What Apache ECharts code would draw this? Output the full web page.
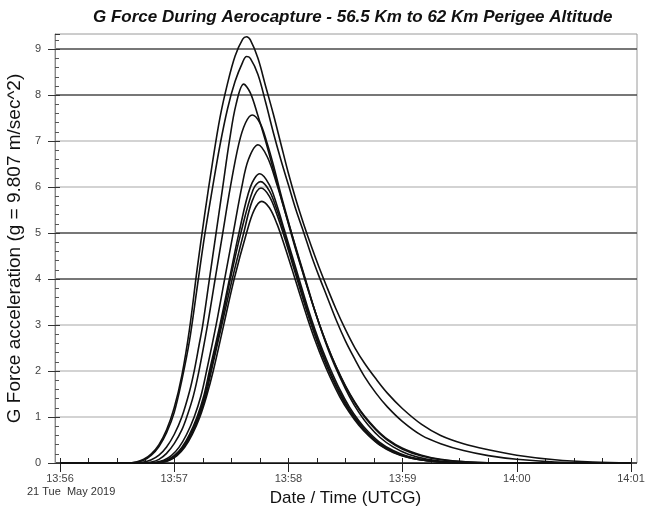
<!DOCTYPE html>
<html><head><meta charset="utf-8">
<script src="https://cdn.jsdelivr.net/npm/echarts@6/dist/echarts.min.js"></script>
<style>html,body{margin:0;padding:0;background:#fff}#c{width:651px;height:508px}</style>
</head><body><div id="c"></div>
<script>
// time in seconds after 13:56:00 UTCG, value in g
const xTickLabels = ['13:56','13:57','13:58','13:59','14:00','14:01'];
const yTickLabels = ['0','1','2','3','4','5','6','7','8','9'];
const g1 = [[0,0],[35,0],[40,0.02],[44,0.08],[48,0.2],[52,0.4],[56,0.72],[60,1.2],[64,1.9],[68,2.9],[72,4.2],[76,5.4],[80,6.5],[84,7.5],[88,8.25],[92,8.85],[96,9.22],[98,9.27],[100,9.2],[104,8.8],[108,8.2],[112,7.6],[116,6.95],[120,6.3],[124,5.72],[128,5.2],[132,4.72],[136,4.27],[140,3.85],[145,3.35],[150,2.9],[155,2.5],[160,2.17],[166,1.83],[172,1.52],[180,1.18],[190,0.84],[200,0.6],[212,0.42],[225,0.29],[240,0.17],[260,0.07],[280,0.02],[300,0]];
const g2 = [[0,0],[36,0],[40,0.015],[44,0.06],[48,0.17],[52,0.36],[56,0.66],[60,1.1],[64,1.8],[68,2.65],[72,3.8],[76,4.95],[80,5.95],[84,6.9],[88,7.7],[92,8.3],[96,8.72],[98,8.84],[100,8.8],[104,8.45],[108,7.85],[112,7.2],[116,6.6],[120,6.05],[124,5.5],[128,5.02],[132,4.52],[136,4.07],[140,3.65],[145,3.12],[150,2.65],[155,2.25],[160,1.88],[166,1.52],[172,1.22],[180,0.9],[190,0.6],[200,0.42],[212,0.27],[225,0.16],[240,0.08],[260,0.02],[280,0],[300,0]];
const g3 = [[0,0],[40,0],[44,0.02],[48,0.07],[52,0.17],[56,0.35],[60,0.62],[64,1.0],[68,1.55],[70.5,2.0],[73,2.55],[75,3],[78.5,4],[82,5],[85.5,6],[89,7],[92.5,7.8],[96.5,8.24],[100,8.05],[104,7.55],[108,7.0],[112,6.4],[116,5.8],[120,5.2],[124,4.62],[128,4.08],[132,3.55],[136,3.05],[140,2.6],[145,2.1],[150,1.68],[155,1.32],[160,1.02],[166,0.74],[172,0.52],[180,0.32],[190,0.17],[200,0.08],[215,0.02],[235,0],[300,0]];
const g4 = [[0,0],[44,0],[48,0.02],[52,0.08],[56,0.21],[60,0.42],[64,0.72],[67,1.05],[70,1.45],[73,2.0],[77.5,3.0],[81.5,4.0],[85.5,5.0],[89.5,6.0],[94,6.95],[97.5,7.4],[101,7.57],[105,7.4],[108.5,7.0],[112,6.5],[116,5.85],[120,5.25],[124,4.65],[128,4.1],[132,3.55],[136,3.05],[140,2.6],[145,2.1],[150,1.66],[155,1.3],[160,1.0],[166,0.72],[172,0.5],[180,0.3],[190,0.15],[200,0.07],[215,0.02],[235,0],[300,0]];
const g5 = [[0,0],[46,0],[50.5,0.015],[54.5,0.06],[58.5,0.16],[62.5,0.34],[66.5,0.62],[70.5,1.0],[74,1.45],[77,2.0],[82,3.0],[86.5,4.0],[91,5.0],[95.5,6.0],[99,6.6],[104,6.92],[109,6.65],[114,6.05],[118,5.5],[122,4.95],[126,4.4],[130,3.85],[134,3.3],[138,2.8],[142,2.35],[147,1.87],[152,1.45],[157,1.1],[162,0.82],[168,0.56],[175,0.35],[183,0.19],[193,0.08],[205,0.02],[220,0],[300,0]];
const g6 = [[0,0],[48,0],[52,0.015],[56,0.06],[60,0.16],[64,0.34],[68,0.62],[72,1.0],[75.5,1.45],[78.5,2.0],[84,3.0],[89,4.0],[94,5.0],[100,6.0],[105,6.29],[110,6.05],[114,5.6],[118,5.05],[122,4.5],[126,3.95],[130,3.4],[134,2.9],[138,2.45],[142,2.05],[147,1.6],[152,1.22],[157,0.92],[162,0.68],[168,0.45],[175,0.27],[183,0.14],[193,0.06],[205,0.01],[220,0],[300,0]];
const g7 = [[0,0],[48,0],[52.5,0.015],[56.5,0.06],[60.5,0.16],[64.5,0.34],[68.5,0.62],[72.5,1.0],[76,1.45],[79,2.0],[84.5,3.0],[89.5,4.0],[95,5.0],[101.5,5.95],[105.4,6.12],[110,5.92],[114,5.5],[118,4.98],[122,4.42],[126,3.87],[130,3.33],[134,2.83],[138,2.38],[142,1.98],[147,1.54],[152,1.17],[157,0.88],[162,0.64],[168,0.42],[175,0.25],[183,0.13],[193,0.05],[205,0.01],[220,0],[300,0]];
const g8 = [[0,0],[49,0],[53,0.015],[57,0.06],[61,0.16],[65,0.34],[69,0.62],[73,1.0],[76.5,1.45],[79.5,2.0],[85,3.0],[90.5,4.0],[96.5,5.0],[101,5.7],[105.6,5.98],[110,5.8],[114,5.4],[118,4.9],[122,4.35],[126,3.8],[130,3.26],[134,2.77],[138,2.32],[142,1.93],[147,1.5],[152,1.14],[157,0.85],[162,0.62],[168,0.4],[175,0.24],[183,0.12],[193,0.05],[205,0.01],[220,0],[300,0]];
const g9 = [[0,0],[49.5,0],[53.5,0.015],[57.5,0.06],[61.5,0.16],[65.5,0.34],[69.5,0.62],[73.5,1.0],[77,1.45],[80.5,2.0],[86,3.0],[91.5,4.0],[98,5.0],[102,5.5],[106,5.69],[110,5.55],[114,5.2],[118,4.72],[122,4.2],[126,3.67],[130,3.15],[134,2.67],[138,2.24],[142,1.86],[147,1.44],[152,1.1],[157,0.82],[162,0.6],[168,0.39],[175,0.23],[183,0.12],[193,0.05],[205,0.01],[220,0],[300,0]];
const curves = [g1,g2,g3,g4,g5,g6,g7,g8,g9];

const FONT = 'Liberation Sans, Arial, sans-serif';
const DARK = '#4a4a4a', LIGHT = '#c4c4c4';
const chart = echarts.init(document.getElementById('c'), null, {renderer:'canvas'});
const yMax = 9.33;
chart.setOption({
  animation:false,
  backgroundColor:'#fff',
  title:{text:'G Force During Aerocapture - 56.5 Km to 62 Km Perigee Altitude', left:88, top:4,
    textStyle:{fontFamily:FONT, fontSize:17, fontWeight:'bold', fontStyle:'italic', color:'#111'}},
  graphic:[{type:'text', left:27, top:486, style:{text:'21 Tue  May 2019', font:'11px '+FONT, fill:'#333'}}],
  grid:[
    {left:55, right:14, top:34, bottom:45, show:true, borderColor:'#9a9a9a', borderWidth:1, backgroundColor:'transparent', outerBoundsMode:'none', containLabel:false},
    {left:60, right:20, top:34, bottom:45, outerBoundsMode:'none', containLabel:false}
  ],
  xAxis:[
    {gridIndex:0, type:'value', min:0, max:1, show:false},
    {gridIndex:1, type:'value', position:'bottom', min:0, max:300, interval:60,
      axisLine:{show:true, onZero:false, lineStyle:{color:'#111', width:1}},
      axisTick:{show:true, inside:true, length:5, lineStyle:{color:'#222'}},
      minorTick:{show:true, splitNumber:4, length:5, lineStyle:{color:'#222'}},
      axisLabel:{show:false}, splitLine:{show:false}},
    {gridIndex:1, type:'value', position:'bottom', min:0, max:300, interval:60,
      axisLine:{show:false, onZero:false},
      axisTick:{show:true, inside:false, length:9, lineStyle:{color:'#222'}},
      axisLabel:{show:true, margin:10, fontFamily:FONT, fontSize:11, color:'#444',
        formatter:(v)=>xTickLabels[Math.round(v/60)] || ''},
      splitLine:{show:false},
      name:'Date / Time (UTCG)', nameLocation:'middle', nameGap:27,
      nameTextStyle:{fontFamily:FONT, fontSize:17, color:'#111'}}
  ],
  yAxis:[
    {gridIndex:0, type:'value', position:'left', min:0, max:yMax, interval:1,
      axisLine:{show:true, lineStyle:{color:'#8a8a8a'}},
      axisTick:{show:true, inside:false, length:7, lineStyle:{color:'#333'}},
      axisLabel:{show:true, margin:14, fontFamily:FONT, fontSize:11, color:'#444', showMaxLabel:false,
        formatter:(v)=>Math.abs(v-Math.round(v))<1e-6 && yTickLabels[Math.round(v)] !== undefined ? yTickLabels[Math.round(v)] : ''},
      splitLine:{show:true, showMinLine:true, showMaxLine:false, lineStyle:{
        color:['#222',LIGHT,LIGHT,LIGHT,DARK,DARK,LIGHT,LIGHT,DARK,DARK,LIGHT], width:1.5}},
      name:'G Force acceleration (g = 9.807 m/sec^2)', nameLocation:'middle', nameGap:23,
      nameTextStyle:{fontFamily:FONT, fontSize:19, color:'#111'}},
    {gridIndex:1, type:'value', position:'left', min:0, max:yMax, interval:1, offset:5,
      axisLine:{show:false, onZero:false},
      axisTick:{show:true, inside:true, length:5, lineStyle:{color:'#333'}},
      minorTick:{show:true, splitNumber:5, length:4, lineStyle:{color:'#555'}},
      axisLabel:{show:false}, splitLine:{show:false}}
  ],
  series: curves.map((d,i)=>({
    type:'line', xAxisIndex:1, yAxisIndex:1, data:d, smooth:0.35, symbol:'none',
    lineStyle:{color:'#111', width:1.6}, z:3
  }))
});
</script></body></html>
